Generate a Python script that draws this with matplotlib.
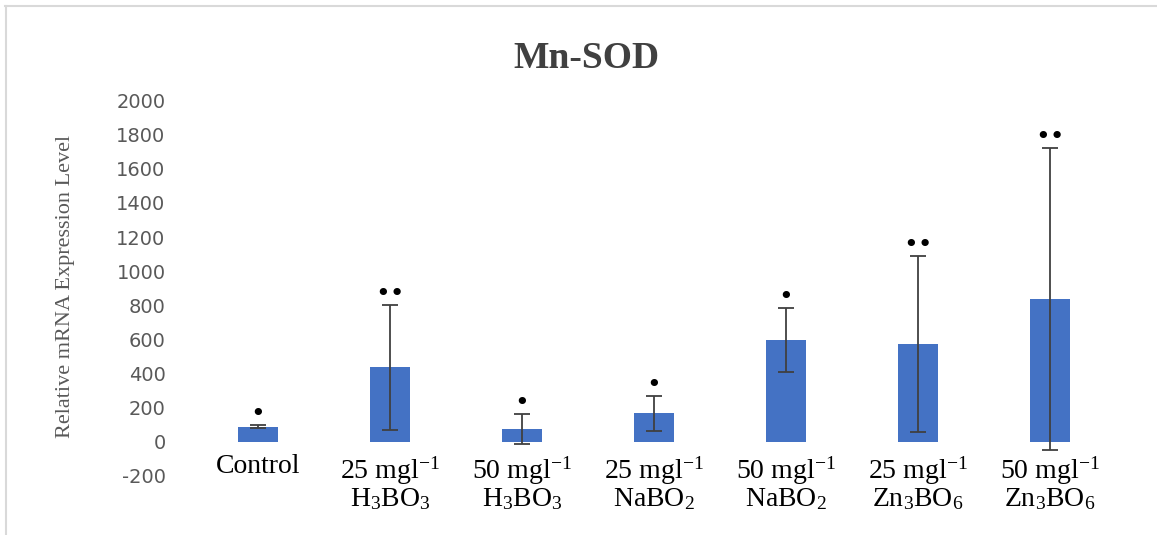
import matplotlib
matplotlib.use("Agg")
import matplotlib.pyplot as plt
from matplotlib.lines import Line2D

plt.rcParams['axes.unicode_minus'] = False
plt.rcParams['mathtext.fontset'] = 'custom'
plt.rcParams['mathtext.rm'] = 'Liberation Serif'
plt.rcParams['mathtext.it'] = 'Liberation Serif:italic'
plt.rcParams['mathtext.bf'] = 'Liberation Serif:bold'

# ---- data ----
categories = [
    "Control",
    "25 mgl$^{-1}$\nH$_3$BO$_3$",
    "50 mgl$^{-1}$\nH$_3$BO$_3$",
    "25 mgl$^{-1}$\nNaBO$_2$",
    "50 mgl$^{-1}$\nNaBO$_2$",
    "25 mgl$^{-1}$\nZn$_3$BO$_6$",
    "50 mgl$^{-1}$\nZn$_3$BO$_6$",
]
means = [88, 436, 74, 166, 596, 573, 837]
errors = [10, 368, 86, 104, 188, 518, 885]
significance = ["•", "••", "•", "•", "•", "••", "••"]
y_ticks = [-200, 0, 200, 400, 600, 800, 1000, 1200, 1400, 1600, 1800, 2000]
title = "Mn-SOD"
y_label = "Relative mRNA Expression Level"

W, H = 1157, 535
fig = plt.figure(figsize=(W / 100, H / 100), dpi=100)
fig.patch.set_facecolor("white")

ax = fig.add_axes([192 / W, 1 - 475.8 / H, (1116 - 192) / W, (475.8 - 100.7) / H])

# spines first (set_position resets ticks)
for side in ["top", "right", "left"]:
    ax.spines[side].set_visible(False)
ax.spines["bottom"].set_position(("data", 0))
ax.spines["bottom"].set_visible(False)
ax.set_facecolor("none")

x = list(range(len(categories)))
ax.bar(x, means, width=0.30, color="#4472C4", zorder=2)
ax.errorbar(x, means, yerr=errors, fmt="none", ecolor="#404040",
            elinewidth=1.3, capsize=6, capthick=1.3, zorder=3)

for xi, m, e, s in zip(x, means, errors, significance):
    ax.annotate(s, (xi, m + e), xytext=(0, 8), textcoords="offset points",
                ha="center", va="center", fontsize=18, color="black",
                family="DejaVu Sans")

ax.set_xlim(-0.5, len(categories) - 0.5)
ax.set_ylim(y_ticks[0], y_ticks[-1])

ax.tick_params(axis="y", length=0, pad=19)
ax.tick_params(axis="x", length=0, pad=9)

ax.set_yticks(y_ticks)
ax.set_yticklabels([str(t) for t in y_ticks], family="DejaVu Sans",
                   fontsize=14, color="#595959")

ax.set_xticks(x)
ax.set_xticklabels(categories, family="Liberation Serif", fontsize=20,
                   color="black", linespacing=1.0)

fig.text(586 / W, 1 - 59 / H, title, ha="center", va="center",
         fontsize=27, fontweight="bold", family="Liberation Serif", color="#404040")
fig.text(66 / W, 1 - 286 / H, y_label, rotation=90, ha="center", va="center",
         fontsize=16, family="Liberation Serif", color="#595959")

# light outer frame (top and left edges visible)
fig.add_artist(Line2D([5 / W, 1], [1 - 6 / H, 1 - 6 / H], transform=fig.transFigure,
                      color="#d9d9d9", lw=1.5))
fig.add_artist(Line2D([6 / W, 6 / W], [0, 1 - 6 / H], transform=fig.transFigure,
                      color="#d9d9d9", lw=1.5))

fig.savefig("out.png", dpi=100, facecolor="white")
